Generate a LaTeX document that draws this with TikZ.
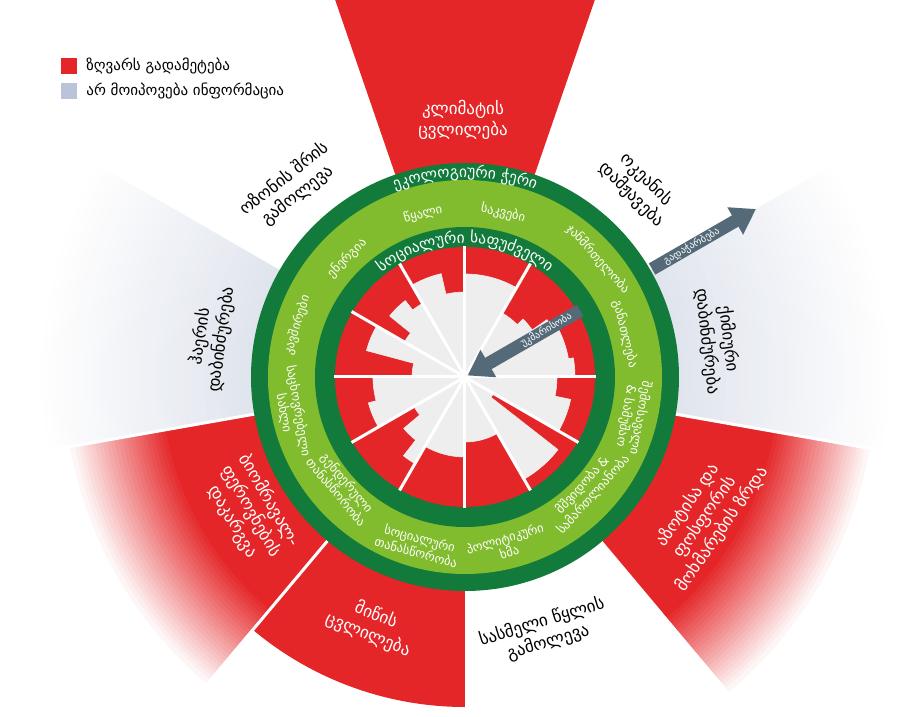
\documentclass[tikz,border=0pt]{standalone}
\usepackage{fontspec}
\setmainfont{DejaVu Sans}
\usepackage{xcolor}
\usepackage{tikz}
\usetikzlibrary{arrows.meta}
\usetikzlibrary{positioning}
\usetikzlibrary{decorations.text}
\definecolor{overshoot}{RGB}{228,38,40}
\definecolor{ceilgreen}{RGB}{18,122,58}
\definecolor{safegreen}{RGB}{128,188,46}
\definecolor{coregrey}{RGB}{238,238,238}
\definecolor{nodata}{RGB}{185,196,218}
\definecolor{fadegrey}{RGB}{224,228,237}
\definecolor{slate}{RGB}{84,106,120}
\newcommand{\ringpart}[4]{(#1:#3pt) arc[start angle=#1, end angle=#2, radius=#3pt] -- (#2:#4pt) arc[start angle=#2, end angle=#1, radius=#4pt] -- cycle}

\begin{document}
\begin{tikzpicture}[x=1pt, y=1pt,
		boundtext/.style={align=center, font=\fontsize{17}{21}\selectfont},
		socialtext/.style={align=center, text=white, font=\fontsize{12.5}{14.5}\selectfont},
		arrowtext/.style={text=white, font=\fontsize{10}{10}\selectfont, inner sep=0pt},
		slatearrow/.style={draw=slate, line width=13pt, -{Triangle[length=24pt, width=30pt]}}]
		\useasboundingbox (-465,-340) rectangle (435,377);
		\clip (-465,-340) rectangle (435,377);
		
		% overshoot wedges
		\fill[overshoot] (0,0) -- (71:440pt) arc[start angle=71, end angle=109, radius=440pt] -- cycle;
		\fill[overshoot] \ringpart{230}{270}{150}{330};
		\fill[overshoot] \ringpart{-50}{-10}{150}{312};
		\fill[overshoot] \ringpart{190}{230}{150}{302};
		\foreach \i in {0,...,24} {
			\pgfmathtruncatemacro\p{100-4*\i}
			\pgfmathtruncatemacro\rin{310+4*\i}
			\pgfmathtruncatemacro\rout{\rin+5}
			\fill[overshoot!\p!white] \ringpart{-50}{-10}{\rin}{\rout};
			\pgfmathtruncatemacro\rin{300+4*\i}
			\pgfmathtruncatemacro\rout{\rin+5}
			\fill[overshoot!\p!white] \ringpart{190}{230}{\rin}{\rout};
		}
		% no data wedges
		\foreach \i in {0,...,29} {
			\pgfmathtruncatemacro\p{100-3.3*\i}
			\pgfmathtruncatemacro\rin{212+7*\i}
			\pgfmathtruncatemacro\rout{\rin+8}
			\fill[fadegrey!\p!white] \ringpart{-10}{30}{\rin}{\rout};
			\fill[fadegrey!\p!white] \ringpart{150}{190}{\rin}{\rout};
		}
		\foreach \a in {-10,190,230}
			\draw[white, line width=3pt] (\a:200pt) -- (\a:450pt);
		
		% doughnut
		\fill[ceilgreen] (0,0) circle[radius=214pt];
		\fill[safegreen] (0,0) circle[radius=197pt];
		\fill[ceilgreen] (0,0) circle[radius=150pt];
		\fill[overshoot] (0,0) circle[radius=130pt];
		
		% shortfall core
		\foreach \a/\b/\r in {60/90/103, 45/60/74, 35/45/82, 30/35/100, 10/30/105, 0/10/110,
			-12/0/92, -30/-12/108, -38/-30/33, -60/-38/118, -90/-60/65, -120/-90/80,
			-128/-120/100, -140/-128/80, -150/-140/59, -165/-150/100, -180/-165/92,
			165/180/53, 150/165/102, 141/150/70, 128/141/97, 120/128/85, 103/120/106, 90/103/85}
			\filldraw[fill=coregrey, draw=coregrey, line width=0.6pt, line join=round]
				(0,0) -- (\a:\r pt) arc[start angle=\a, end angle=\b, radius=\r pt] -- cycle;
		\foreach \a in {0,30,...,330}
			\draw[white, line width=3pt] (0,0) -- (\a:131pt);
		
		% ring titles
		\path[decorate, decoration={text along path, text align=center,
			text={|\fontsize{15.5}{15.5}\selectfont\color{white}|ეკოლოგიური ჭერი}}]
			(150:200pt) arc[start angle=150, end angle=30, radius=200pt];
		\path[decorate, decoration={text along path, text align=center,
			text={|\fontsize{15.5}{15.5}\selectfont\color{white}|სოციალური საფუძველი}}]
			(150:134pt) arc[start angle=150, end angle=30, radius=134pt];
		
		% planetary boundaries
		\node[boundtext, text=white] (climate) at (-2,257) {კლიმატის\\ცვლილება};
		\node[boundtext, rotate=-45] (ocean) at (174,190) {ოკეანის\\დამჟავება};
		\node[boundtext, rotate=-83] (chemical) at (253,37) {ქიმიური\\დაბინძურება};
		\node[boundtext, text=white, rotate=55] (nitrogen) at (240,-140) {აზოტისა და\\ფოსფორის\\მოხმარების ზრდა};
		\node[boundtext, rotate=17] (freshwater) at (80,-255) {სასმელი წყლის\\გამოლევა};
		\node[boundtext, text=white, rotate=-22] (land) at (-93,-248) {მიწის\\ცვლილება};
		\node[boundtext, text=white, rotate=-60] (biodiversity) at (-214,-134) {ბიომრავალ-\\ფეროვნების\\დაკარგვა};
		\node[boundtext, rotate=82] (air) at (-254,39) {ჰაერის\\დაბინძურება};
		\node[boundtext, rotate=38] (ozone) at (-174,190) {ოზონის შრის\\გამოლევა};
		
		% social foundation
		\node[socialtext, rotate=14] (water) at (-42,163) {წყალი};
		\node[socialtext, rotate=-13] (food) at (38,164) {საკვები};
		\node[socialtext, rotate=-48] (health) at (133,118) {ჯანმრთელობა};
		\node[socialtext, rotate=-76] (education) at (160,43) {განათლება};
		\node[socialtext, rotate=-100] (income) at (168,-40) {შემოსავალი\\\& სამუშაო};
		\node[socialtext, rotate=48] (peace) at (123,-113) {მშვიდობა \&\\სამართლიანობა};
		\node[socialtext, rotate=17] (voice) at (42,-168) {პოლიტიკური\\ხმა};
		\node[socialtext, rotate=-15] (equity) at (-47,-168) {სოციალური\\თანასწორობა};
		\node[socialtext, rotate=-50] (gender) at (-123,-110) {გენდერული\\თანასწორობა};
		\node[socialtext, rotate=-80] (housing) at (-174,-35) {საცხოვრებელი\\სახლი};
		\node[socialtext, rotate=73] (networks) at (-168,52) {კავშირები};
		\node[socialtext, rotate=45] (energy) at (-118,119) {ენერგია};
		
		% arrows
		\coordinate (overbase) at (30:216pt);
		\coordinate (overtip) at (30:336pt);
		\coordinate (shortbase) at (30:133pt);
		\coordinate (shorttip) at (30:3pt);
		\draw[slatearrow] (overbase) -- node[pos=0.38, sloped, arrowtext] (overlabel) {გადაჭარბება} (overtip);
		\draw[slatearrow] (shortbase) -- node[pos=0.3, sloped, arrowtext] (shortlabel) {უკმარისობა} (shorttip);
		
		% legend
		\node[fill=overshoot, minimum size=16pt, inner sep=0pt] (keyred) at (-396,311) {};
		\node[fill=nodata, minimum size=16pt, inner sep=0pt, below=9pt of keyred] (keygrey) {};
		\node[right=9pt of keyred, inner sep=0pt, font=\fontsize{15}{15}\selectfont] (keyredtext) {ზღვარს გადამეტება};
		\node[right=9pt of keygrey, inner sep=0pt, font=\fontsize{15}{15}\selectfont] (keygreytext) {არ მოიპოვება ინფორმაცია};
	\end{tikzpicture}
\end{document}
